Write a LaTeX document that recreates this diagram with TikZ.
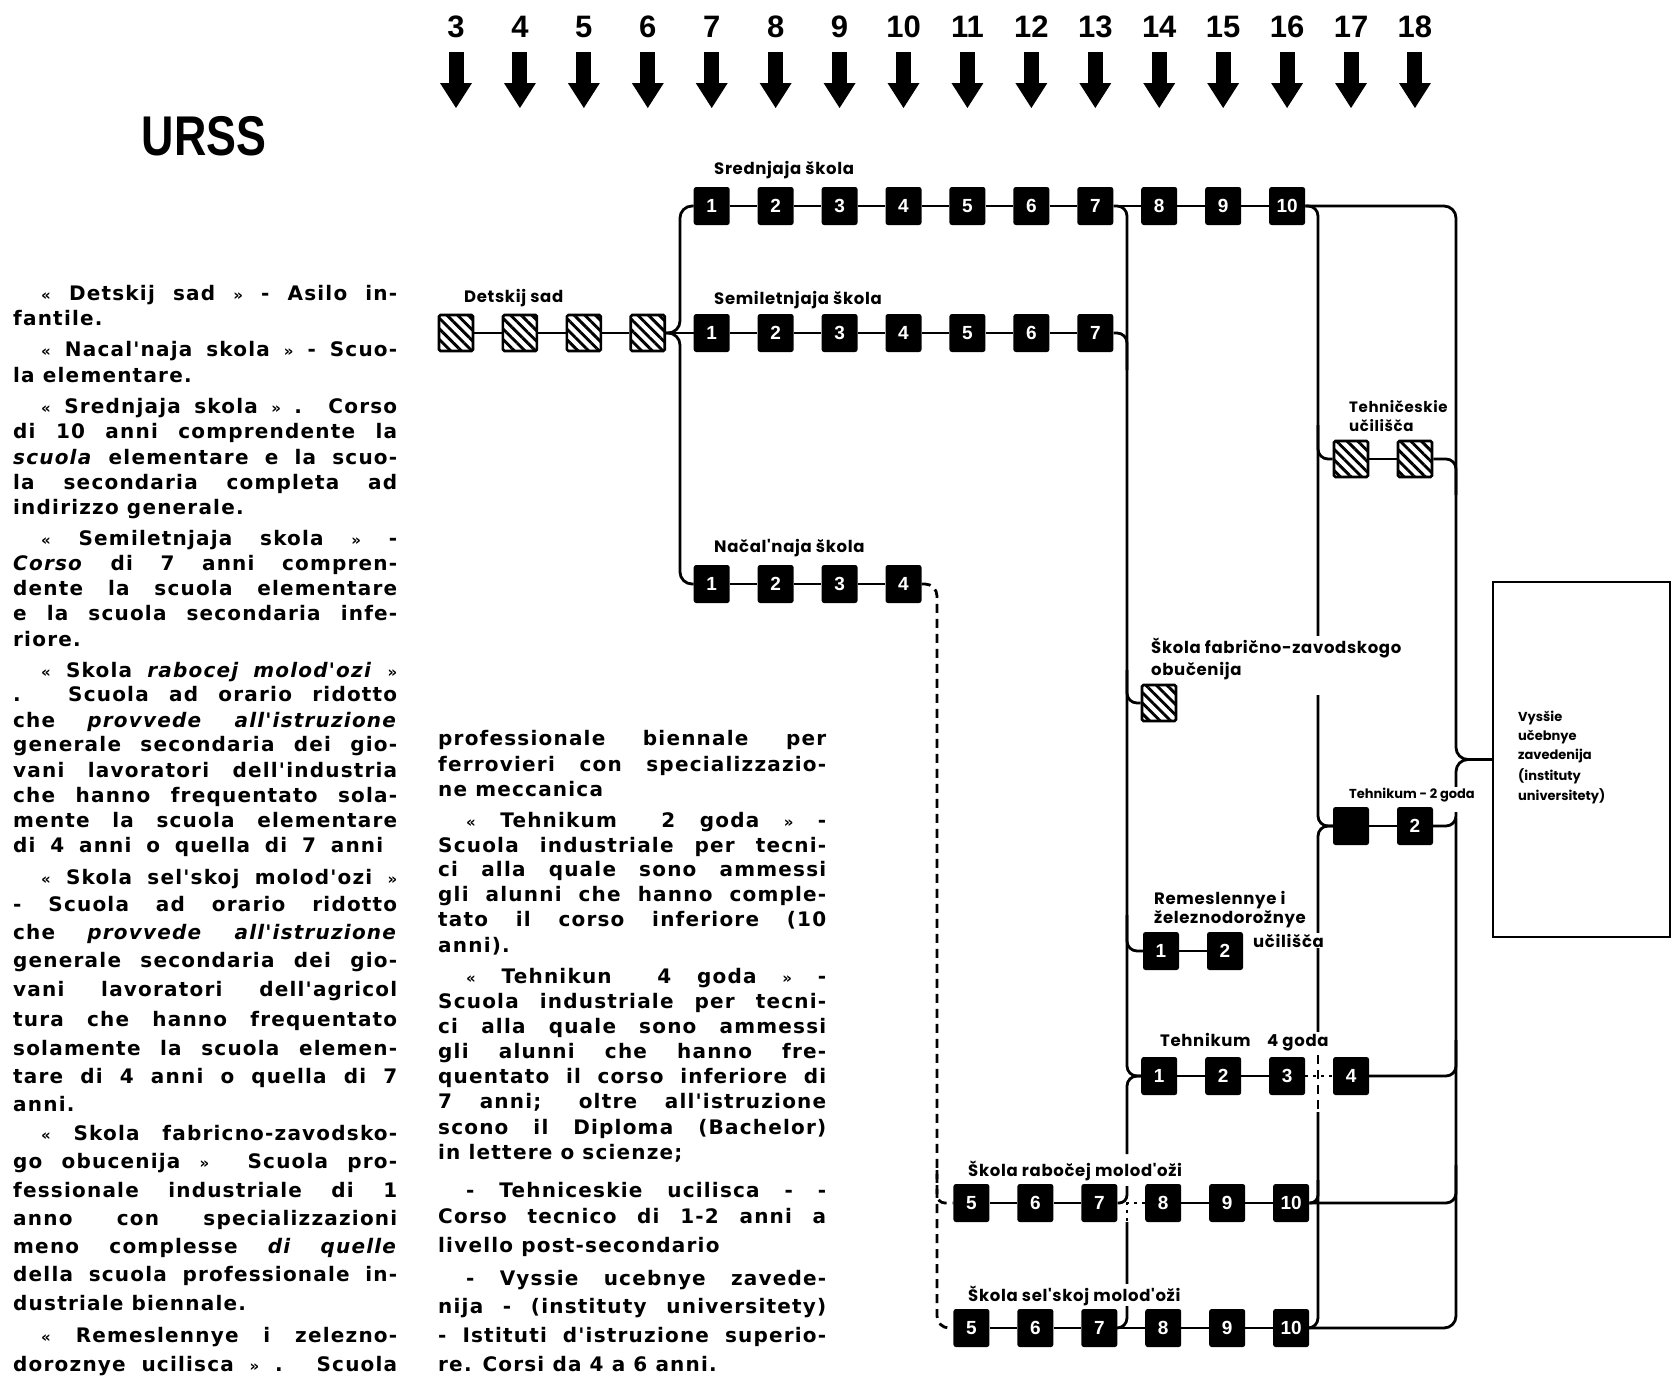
\documentclass[tikz,border=0pt]{standalone}
\usepackage{fontspec}
\setmainfont{Liberation Sans}
\newfontfamily\bodyf[LetterSpace=6]{DejaVu Sans}
\newfontfamily\lblf[LetterSpace=4]{Poppins}
\newfontfamily\slblf{Poppins}
\usetikzlibrary{patterns.meta}
\tikzset{
 conn/.style={line width=2.8pt, line join=round},
 blk/.style={fill=black, rounded corners=2.5pt, minimum width=36pt, minimum height=38pt, inner sep=0pt, text=white, font=\fontsize{19}{19}\selectfont\bfseries},
 hat/.style={draw=black, line width=2.6pt, fill=white, rounded corners=1.5pt, minimum width=34pt, minimum height=36pt, inner sep=0pt, postaction={pattern={Lines[angle=-45,distance=7.5pt,line width=2.9pt]}}},
 lbl/.style={font=\lblf\bfseries\fontsize{16.5}{18}\selectfont, anchor=base west, inner sep=1pt, fill=white},
 slbl/.style={font=\slblf\bfseries\fontsize{13}{15}\selectfont, anchor=base west, inner sep=1pt, fill=white},
 tx/.style={font=\bodyf\bfseries\fontsize{20}{24}\selectfont, anchor=base west, inner sep=0pt},
 yr/.style={font=\bfseries\fontsize{31}{31}\selectfont, inner sep=0pt},
 dsh/.style={conn, dash pattern=on 9pt off 6pt},
 dts/.style={conn, dash pattern=on 3pt off 5pt},
}
\newcommand\GuL{{\fontsize{15}{15}\selectfont«}}
\newcommand\GuR{{\fontsize{15}{15}\selectfont»}}
\newcommand\ColAj[3]{\node[tx] (#1) at (13,#2) {\makebox[384pt][s]{#3}};}
\newcommand\ColAi[3]{\node[tx] (#1) at (41,#2) {\makebox[356pt][s]{#3}};}
\newcommand\ColAl[3]{\node[tx] (#1) at (13,#2) {#3};}
\newcommand\ColBj[3]{\node[tx] (#1) at (438,#2) {\makebox[388pt][s]{#3}};}
\newcommand\ColBi[3]{\node[tx] (#1) at (466,#2) {\makebox[360pt][s]{#3}};}
\newcommand\ColBl[3]{\node[tx] (#1) at (438,#2) {#3};}
\begin{document}
\begin{tikzpicture}[x=1pt,y=-1pt]
\fill[white] (0,0) rectangle (1675,1385);
\useasboundingbox (0,0) rectangle (1675,1385);

% year arrows
\foreach \a in {3,...,18}{
 \pgfmathsetmacro\xx{456+63.93*(\a-3)}
 \node[yr] (y\a) at (\xx,27) {\a};
 \fill (\xx-7.5,52) rectangle (\xx+7.5,88);
 \fill (\xx-16,83) -- (\xx+16,83) -- (\xx,108) -- cycle;
}

\node[font=\bfseries\fontsize{56}{56}\selectfont, inner sep=0pt] (urss) at (204,136) {\scalebox{0.8}[1]{URSS}};

% ---------- boxes ----------
\foreach \i in {1,...,4}{
 \pgfmathsetmacro\xx{456+63.93*(\i-1)}
 \node[hat] (d\i) at (\xx,333) {};
}
\foreach \i in {1,...,10}{
 \pgfmathsetmacro\xx{456+63.93*(\i+3)}
 \node[blk] (s\i) at (\xx,206) {\i};
}
\foreach \i in {1,...,7}{
 \pgfmathsetmacro\xx{456+63.93*(\i+3)}
 \node[blk] (m\i) at (\xx,333) {\i};
}
\foreach \i in {1,...,4}{
 \pgfmathsetmacro\xx{456+63.93*(\i+3)}
 \node[blk] (n\i) at (\xx,584) {\i};
}
\foreach \i in {5,...,10}{
 \pgfmathsetmacro\xx{460+63.93*(\i+3)}
 \node[blk] (rb\i) at (\xx,1203) {\i};
 \node[blk] (sk\i) at (\xx,1328) {\i};
}
\foreach \i in {1,...,4}{
 \pgfmathsetmacro\xx{456+63.93*(\i+10)}
 \node[blk] (t4\i) at (\xx,1076) {\i};
}
\node[hat] (tc1) at (1351,459) {};
\node[hat] (tc2) at (1415,459) {};
\node[hat] (fab) at (1159,703) {};
\node[blk] (tk21) at (1351,826) {};
\node[blk] (tk22) at (1415,826) {2};
\node[blk] (r1) at (1161,951) {1};
\node[blk] (r2) at (1225,951) {2};
\node[draw, line width=2.5pt, minimum width=177pt, minimum height=355pt, inner sep=0pt] (vys) at (1581.5,759.5) {};

% ---------- row connectors ----------
\foreach \i/\j in {1/2,2/3,3/4}{ \draw[conn] (d\i) -- (d\j); \draw[conn] (n\i) -- (n\j); }
\foreach \i/\j in {1/2,2/3}{ \draw[conn] (t4\i) -- (t4\j); }
\draw[conn] (d4) -- (m1);
\foreach \i/\j in {1/2,2/3,3/4,4/5,5/6,6/7,7/8,8/9,9/10}{ \draw[conn] (s\i) -- (s\j); }
\foreach \i/\j in {1/2,2/3,3/4,4/5,5/6,6/7}{ \draw[conn] (m\i) -- (m\j); }
\foreach \i/\j in {5/6,6/7,8/9,9/10}{ \draw[conn] (rb\i) -- (rb\j); }
\foreach \i/\j in {5/6,6/7,7/8,8/9,9/10}{ \draw[conn] (sk\i) -- (sk\j); }
\draw[dts] (rb7) -- (rb8);
\draw[conn] (tc1) -- (tc2);
\draw[conn] (tk21) -- (tk22);
\draw[conn] (r1) -- (r2);

% ---------- branching ----------
\draw[conn, rounded corners=12pt] (d4.east) -- (680,333) |- (s1.west);
\draw[conn, rounded corners=12pt] (d4.east) -- (680,333) |- (n1.west);

% vertical A
\draw[conn, rounded corners=10pt] (s7.east) -| (1127,1076) -- (t41.west);
\draw[conn, rounded corners=10pt] (m7.east) -| (1127,370);
\draw[conn, rounded corners=10pt] (1127,670) |- (fab.west);
\draw[conn, rounded corners=10pt] (1127,915) |- (r1.west);
\draw[conn, rounded corners=10pt] (t41.west) -| (1127,1154);
\draw[dts] (1127,1186) -- (1127,1222);
\draw[conn, rounded corners=8pt] (rb7.east) -| (1127,1186);
\draw[conn, rounded corners=10pt] (1127,1222) |- (sk7.east);

% vertical B
\draw[conn, rounded corners=10pt] (s10.east) -| (1318,636);
\draw[conn, rounded corners=10pt] (1318,425) |- (tc1.west);
\draw[conn, rounded corners=10pt] (1318,695) |- (tk21.west);
\draw[conn, rounded corners=10pt] (tk21.west) -| (1318,1040);
\draw[dsh] (1318,1040) -- (1318,1112);
\draw[conn, rounded corners=10pt] (1318,1112) |- (sk10.east);
\draw[conn, rounded corners=8pt] (rb10.east) -| (1318,1180);
\draw[dts] (t43) -- (t44);

% vertical C
\draw[conn, rounded corners=12pt] (s10.east) -| (1456,759.5) -- (vys.west);
\draw[conn, rounded corners=12pt] (1456,788) |- (vys.west);
\draw[conn, rounded corners=12pt] (sk10.east) -| (1456,818);
\draw[conn, rounded corners=10pt] (tc2.east) -| (1456,495);
\draw[conn, rounded corners=10pt] (tk22.east) -| (1456,812);
\draw[conn, rounded corners=10pt] (t44.east) -| (1456,1040);
\draw[conn, rounded corners=10pt] (rb10.east) -| (1456,1165);

% dashed D
\draw[dsh, rounded corners=12pt] (n4.east) -| (937,1328) -- (sk5.west);
\draw[dsh, rounded corners=8pt] (937,1170) |- (rb5.west);

% ---------- diagram labels ----------
\node[lbl] (sl) at (713,174) {Srednjaja škola};
\node[lbl] (ml) at (713,304) {Semiletnjaja škola};
\node[lbl] (dl) at (463,302) {Detskij sad};
\node[lbl] (nl) at (713,552) {Načal'naja škola};
\node[lbl, font=\lblf\bfseries\fontsize{15}{17}\selectfont] (tcl1) at (1348,412) {Tehničeskie};
\node[lbl, font=\lblf\bfseries\fontsize{15}{17}\selectfont] (tcl2) at (1348,431) {učilišča};
\node[lbl] (fl1) at (1150,653) {Škola fabrično-zavodskogo};
\node[lbl] (fl2) at (1150,675) {obučenija};
\node[slbl] (tk2l) at (1348,798) {Tehnikum - 2 goda};
\node[lbl] (rl1) at (1153,904) {Remeslennye i};
\node[lbl] (rl2) at (1153,923) {železnodorožnye};
\node[lbl] (rl3) at (1252,947) {učilišča};
\node[lbl] (t4l) at (1159,1046) {Tehnikum\quad 4 goda};
\node[lbl] (rbl) at (967,1176) {Škola rabočej molod'oži};
\node[lbl] (skl) at (967,1301) {Škola sel'skoj molod'oži};
\node[slbl] (v1) at (1517,721) {Vysšie};
\node[slbl] (v2) at (1517,740) {učebnye};
\node[slbl] (v3) at (1517,759) {zavedenija};
\node[slbl] (v4) at (1517,780) {(instituty};
\node[slbl] (v5) at (1517,800) {universitety)};

% ---------- left text column ----------
\ColAi{a1}{300}{\GuL{} Detskij sad \GuR{} - Asilo in-}
\ColAl{a2}{325}{fantile.}
\ColAi{a3}{356}{\GuL{} Nacal'naja skola \GuR{} - Scuo-}
\ColAl{a4}{382}{la elementare.}
\ColAi{a5}{413}{\GuL{} Srednjaja skola \GuR{} . Corso}
\ColAj{a6}{438}{di 10 anni comprendente la}
\ColAj{a7}{464}{\textit{scuola} elementare e la scuo-}
\ColAj{a8}{489}{la secondaria completa ad}
\ColAl{a9}{514}{indirizzo generale.}
\ColAi{a10}{545}{\GuL{} Semiletnjaja skola \GuR{} -}
\ColAj{a11}{570}{\textit{Corso} di 7 anni compren-}
\ColAj{a12}{595}{dente la scuola elementare}
\ColAj{a13}{620}{e la scuola secondaria infe-}
\ColAl{a14}{646}{riore.}
\ColAi{a15}{677}{\GuL{} Skola \textit{rabocej molod'ozi} \GuR}
\ColAj{a16}{701}{. Scuola ad orario ridotto}
\ColAj{a17}{727}{che \textit{provvede} \textit{all'istruzione}}
\ColAj{a18}{751}{generale secondaria dei gio-}
\ColAj{a19}{777}{vani lavoratori dell'industria}
\ColAj{a20}{802}{che hanno frequentato sola-}
\ColAj{a21}{827}{mente la scuola elementare}
\node[tx] (a22) at (13,852) {\makebox[370pt][s]{di 4 anni o quella di 7 anni}};
\ColAi{a23}{884}{\GuL{} Skola sel'skoj molod'ozi \GuR}
\ColAj{a24}{911}{- Scuola ad orario ridotto}
\ColAj{a25}{939}{che \textit{provvede} \textit{all'istruzione}}
\ColAj{a26}{967}{generale secondaria dei gio-}
\ColAj{a27}{996}{vani lavoratori dell'agricol}
\ColAj{a28}{1026}{tura che hanno frequentato}
\ColAj{a29}{1055}{solamente la scuola elemen-}
\ColAj{a30}{1083}{tare di 4 anni o quella di 7}
\ColAl{a31}{1111}{anni.}
\ColAi{a32}{1140}{\GuL{} Skola fabricno-zavodsko-}
\ColAj{a33}{1168}{go obucenija \GuR{} \ Scuola pro-}
\ColAj{a34}{1197}{fessionale industriale di 1}
\ColAj{a35}{1225}{anno con specializzazioni}
\ColAj{a36}{1253}{meno complesse \textit{di quelle}}
\ColAj{a37}{1281}{della scuola professionale in-}
\ColAl{a38}{1310}{dustriale biennale.}
\ColAi{a39}{1342}{\GuL{} Remeslennye i zelezno-}
\ColAj{a40}{1371}{doroznye ucilisca \GuR{} . Scuola}

% ---------- middle text column ----------
\ColBj{b1}{745}{professionale biennale per}
\ColBj{b2}{771}{ferrovieri con specializzazio-}
\ColBl{b3}{796}{ne meccanica}
\ColBi{b4}{827}{\GuL{} Tehnikum \quad 2 goda \GuR{} -}
\ColBj{b5}{852}{Scuola industriale per tecni-}
\ColBj{b6}{876}{ci alla quale sono ammessi}
\ColBj{b7}{901}{gli alunni che hanno comple-}
\ColBj{b8}{926}{tato il corso inferiore (10}
\ColBl{b9}{952}{anni).}
\ColBi{b10}{983}{\GuL{} Tehnikun \quad 4 goda \GuR{} -}
\ColBj{b11}{1008}{Scuola industriale per tecni-}
\ColBj{b12}{1033}{ci alla quale sono ammessi}
\ColBj{b13}{1058}{gli alunni che hanno fre-}
\ColBj{b14}{1083}{quentato il corso inferiore di}
\ColBj{b15}{1108}{7 anni; oltre all'istruzione}
\ColBj{b16}{1134}{scono il Diploma (Bachelor)}
\ColBl{b17}{1159}{in lettere o scienze;}
\ColBi{b18}{1197}{- Tehniceskie ucilisca - -}
\ColBj{b19}{1223}{Corso tecnico di 1-2 anni a}
\ColBl{b20}{1252}{livello post-secondario}
\ColBi{b21}{1285}{- Vyssie ucebnye zavede-}
\ColBj{b22}{1313}{nija - (instituty universitety)}
\ColBj{b23}{1342}{- Istituti d'istruzione superio-}
\ColBl{b24}{1371}{re. Corsi da 4 a 6 anni.}
\end{tikzpicture}
\end{document}
